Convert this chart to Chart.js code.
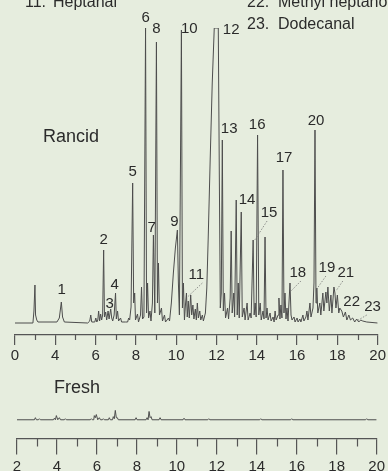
<!DOCTYPE html>
<html>
<head>
<meta charset="utf-8">
<script src="https://cdn.jsdelivr.net/npm/chart.js@4/dist/chart.umd.min.js"></script>
<style>
  html, body { margin: 0; padding: 0; background: #e6edde; overflow: hidden; }
  body { width: 388px; height: 471px; position: relative; }
  canvas { position: absolute; left: 0; }
  #rancidChart { top: 0; }
  #freshChart { top: 374px; }
</style>
</head>
<body>
<canvas id="rancidChart" width="388" height="367"></canvas>
<canvas id="freshChart" width="388" height="103"></canvas>
<script>
// Rancid trace (retention time in min, detector signal)
const rancidTime = [
  2.00, 2.89, 2.94, 2.99, 3.02, 3.08, 3.14, 4.08, 4.20, 4.30, 4.36, 4.45,
  5.61, 5.71, 5.76, 5.81, 5.96, 6.01, 6.06, 6.11, 6.15, 6.20, 6.25, 6.30, 6.35, 6.40, 6.44, 6.50,
  6.55, 6.62, 6.67, 6.75, 6.80, 6.85, 6.92, 6.99, 7.03, 7.09, 7.14, 7.24, 7.29, 7.49, 7.59, 7.64,
  7.69, 7.76, 7.84, 7.89, 7.94, 7.98, 8.08, 8.13, 8.23, 8.28, 8.33, 8.40, 8.48, 8.53, 8.58, 8.63,
  8.70, 8.75, 8.82, 8.87, 8.94, 9.02, 9.07, 9.12, 9.17, 9.27, 9.32, 9.42, 9.47, 9.62, 9.67, 9.76,
  9.86, 9.96, 10.06, 10.11, 10.16, 10.26, 10.31, 10.36, 10.41, 10.46, 10.51, 10.55, 10.60, 10.65,
  10.72, 10.77, 10.83, 10.88, 10.95, 11.00, 11.05, 11.10, 11.17, 11.22, 11.30, 11.35, 11.45, 11.52,
  11.59, 11.69, 11.79, 11.89, 12.09, 12.14, 12.19, 12.24, 12.29, 12.34, 12.40, 12.45, 12.55, 12.60,
  12.68, 12.73, 12.78, 12.86, 12.90, 12.98, 13.03, 13.08, 13.13, 13.23, 13.28, 13.37, 13.42, 13.52,
  13.57, 13.67, 13.72, 13.82, 13.87, 13.92, 13.97, 14.04, 14.10, 14.17, 14.22, 14.31, 14.36, 14.41,
  14.46, 14.51, 14.56, 14.66, 14.71, 14.81, 14.86, 14.91, 14.96, 15.06, 15.10, 15.15, 15.20, 15.25,
  15.30, 15.35, 15.40, 15.45, 15.50, 15.55, 15.65, 15.70, 15.75, 15.85, 15.90, 16.00, 16.05, 16.14,
  16.19, 16.29, 16.34, 16.44, 16.49, 16.54, 16.64, 16.69, 16.79, 16.84, 16.89, 16.94, 16.98, 17.03,
  17.13, 17.18, 17.28, 17.33, 17.43, 17.48, 17.53, 17.60, 17.68, 17.73, 17.83, 17.88, 17.93, 18.00,
  18.07, 18.12, 18.22, 18.30, 18.40, 18.47, 18.57, 18.65, 18.76, 18.86, 18.96, 19.06, 19.16, 19.26,
  19.46, 20.00
];
const rancidSignal = [
  0, 0, 12, 38, 8, 3, 1, 1, 5, 21, 6, 1,
  0, 2, 8, 1, 1, 5, 1, 3, 12, 2, 9, 3, 8, 73, 6, 11,
  3, 12, 4, 14, 5, 2, 8, 30, 4, 12, 2, 5, 1, 1, 1, 5,
  3, 16, 140, 20, 30, 3, 9, 1, 8, 36, 4, 6, 295, 10, 40, 5,
  12, 2, 20, 88, 10, 281, 20, 60, 8, 15, 2, 8, 1, 5, 2, 20,
  50, 75, 93, 40, 8, 293, 15, 40, 3, 18, 30, 6, 22, 5,
  28, 8, 18, 4, 14, 3, 20, 5, 12, 3, 8, 2, 10, 35,
  85, 165, 240, 295, 295, 150, 15, 30, 183, 12, 30, 5, 15, 4,
  25, 92, 10, 30, 6, 123, 8, 40, 5, 111, 6, 15, 3, 20,
  3, 10, 5, 83, 8, 20, 6, 188, 8, 20, 3, 12, 4, 86,
  5, 15, 3, 10, 2, 6, 1, 12, 3, 8, 25, 4, 18, 5,
  153, 10, 30, 4, 15, 2, 40, 8, 3, 6, 1, 5, 1, 4,
  1, 8, 2, 6, 12, 3, 20, 6, 15, 40, 193, 20, 35, 10,
  20, 8, 30, 12, 31, 20, 36, 12, 28, 10, 36, 30, 15, 28,
  10, 15, 12, 6, 11, 3, 8, 3, 5, 1, 4, 1, 3, 2,
  1, 0
];

// Fresh trace
const freshTime = [
  2.00, 2.87, 2.92, 2.97, 3.07, 3.12, 3.17, 3.82, 3.87, 3.92, 3.97, 4.04, 4.12, 4.18, 4.37, 4.42,
  4.47, 5.67, 5.72, 5.77, 5.84, 5.87, 5.92, 5.97, 6.04, 6.12, 6.18, 6.27, 6.32, 6.37, 6.57, 6.62,
  6.67, 6.78, 6.82, 6.87, 6.92, 6.97, 7.02, 7.07, 7.91, 7.96, 8.01, 8.46, 8.51, 8.56, 8.61, 8.66,
  8.71, 8.76, 9.11, 9.16, 9.21, 10.31, 10.36, 10.41, 11.55, 11.60, 11.65, 14.15, 14.20, 14.25,
  15.70, 15.75, 15.80, 19.45, 19.50, 19.55, 20.00
];
const freshSignal = [
  0, 0, 2, 0, 0, 1, 0, 0, 1.5, 0, 4, 0, 2, 0, 0, 1,
  0, 0, 1, 0, 0, 4, 2, 5, 0, 2, 0, 0, 1, 0, 0, 2,
  0, 0, 3, 1, 9, 2, 2, 0, 0, 2, 0, 0, 2, 0, 8, 2,
  3, 0, 0, 2, 0, 0, 1.5, 0, 0, 1, 0, 0, 1, 0,
  0, 1, 0, 0, 1, 0, 0
];

// Axis tick labels (one per minute, 2..20)
const rancidTickLabels = ["0", "", "4", "", "6", "", "8", "", "10", "", "12", "", "14", "", "16", "", "18", "", "20"];
const freshTickLabels = ["2", "", "4", "", "6", "", "8", "", "10", "", "12", "", "14", "", "16", "", "18", "", "20"];

// Peak numbers and where their labels sit (time, signal level)
const peakNumbers = ["1", "2", "3", "4", "5", "6", "7", "8", "9", "10", "11", "12", "13", "14", "15", "16", "17", "18", "19", "20", "21", "22", "23"];
const peakLabelTime = [4.32, 6.40, 6.70, 6.95, 7.84, 8.48, 8.78, 9.02, 9.91, 10.65, 11.00, 12.73, 12.63, 13.52, 14.61, 14.02, 15.35, 16.04, 17.48, 16.94, 18.42, 18.71, 19.75];
const peakLabelLevel = [33, 83, 19, 38, 151, 305, 95, 294, 101, 294, 48, 293, 194, 123, 110, 198, 165, 50, 55, 202, 50, 21, 16];

// Dotted leader lines: [t1, level1, t2, level2]
const leaderLines = [
  [11.30, 40, 10.56, 26],
  [14.51, 102, 13.87, 82],
  [16.19, 42, 15.70, 32],
  [17.43, 47, 16.98, 34],
  [18.27, 42, 17.93, 32],
  [19.46, 8, 18.96, 2]
];

// Compound key (partly cut off at the top)
const keyNumbers = ["11.", "22.", "23."];
const keyNames = ["Heptanal", "Methyl heptanoate", "Dodecanal"];

const fontFamily = "'Liberation Sans', Arial, Helvetica, sans-serif";
const inkColor = "#2b2b2b";
const traceColor = "#4d4d4d";
const axisColor = "#555";

Chart.defaults.font.family = fontFamily;
Chart.defaults.color = inkColor;

// Short ticks at the odd minutes
const minorTicks = {
    id: "minorTicks",
    afterDraw(chart, args, opts) {
        const xs = chart.scales.x;
        const ctx = chart.ctx;
        const y0 = chart.chartArea.bottom;
        ctx.save();
        ctx.strokeStyle = axisColor;
        ctx.lineWidth = 1.2;
        xs.ticks.forEach(t => {
            if (t.value % 2 === 0) return;
            const px = Math.round(xs.getPixelForValue(t.value)) + 0.5;
            ctx.beginPath();
            ctx.moveTo(px, y0);
            ctx.lineTo(px, y0 + opts.length);
            ctx.stroke();
        });
        ctx.restore();
    }
};

const rancidText = {
    id: "rancidText",
    afterDatasetsDraw(chart) {
        const ctx = chart.ctx;
        const xs = chart.scales.x;
        const ys = chart.scales.y;
        ctx.save();
        ctx.fillStyle = inkColor;
        ctx.textAlign = "center";
        ctx.textBaseline = "middle";
        ctx.font = "15px " + fontFamily;
        peakNumbers.forEach((n, i) => {
            ctx.fillText(n, xs.getPixelForValue(peakLabelTime[i]), ys.getPixelForValue(peakLabelLevel[i]));
        });

        // leaders
        ctx.strokeStyle = "#777";
        ctx.lineWidth = 0.8;
        ctx.setLineDash([1.5, 1.5]);
        leaderLines.forEach(l => {
            ctx.beginPath();
            ctx.moveTo(xs.getPixelForValue(l[0]), ys.getPixelForValue(l[1]));
            ctx.lineTo(xs.getPixelForValue(l[2]), ys.getPixelForValue(l[3]));
            ctx.stroke();
        });
        ctx.setLineDash([]);

        ctx.font = "18px " + fontFamily;
        ctx.fillText("Rancid", 71, 137);

        // key
        ctx.textAlign = "left";
        ctx.textBaseline = "alphabetic";
        ctx.font = "16px " + fontFamily;
        ctx.fillText(keyNumbers[0], 25, 7);
        ctx.fillText(keyNames[0], 53, 7);
        ctx.fillText(keyNumbers[1], 247, 7);
        ctx.fillText(keyNames[1], 278, 7);
        ctx.fillText(keyNumbers[2], 247, 29);
        ctx.fillText(keyNames[2], 278, 29);
        ctx.restore();
    }
};

const freshText = {
    id: "freshText",
    afterDatasetsDraw(chart) {
        const ctx = chart.ctx;
        ctx.save();
        ctx.fillStyle = inkColor;
        ctx.textAlign = "center";
        ctx.textBaseline = "middle";
        ctx.font = "18px " + fontFamily;
        ctx.fillText("Fresh", 77, 14);
        ctx.restore();
    }
};

function xAxis(labels, tickLength, padding) {
    return {
        type: "linear",
        min: 2,
        max: 20,
        ticks: {
            stepSize: 1,
            autoSkip: false,
            maxRotation: 0,
            padding: padding,
            font: { size: 15 },
            color: inkColor,
            callback: (value, index) => labels[index]
        },
        grid: {
            display: true,
            drawOnChartArea: false,
            drawTicks: true,
            tickLength: tickLength,
            lineWidth: 1.2,
            color: ctx => (ctx.tick && ctx.tick.value % 2 === 0) ? axisColor : "rgba(0,0,0,0)"
        },
        border: { display: true, color: axisColor, width: 1.2 }
    };
}

function buildChart(canvasId, times, signal, yMin, yMax, padding, labels, tickLength, minorLength, tickPadding, textPlugin) {
    const points = times.map((t, i) => ({ x: t, y: signal[i] }));
    return new Chart(document.getElementById(canvasId), {
        type: "line",
        data: {
            datasets: [{
                data: points,
                borderColor: traceColor,
                borderWidth: 1,
                pointRadius: 0,
                tension: 0,
                fill: false
            }]
        },
        options: {
            responsive: false,
            animation: false,
            devicePixelRatio: 1,
            layout: { padding: padding },
            plugins: {
                legend: { display: false },
                tooltip: { enabled: false },
                minorTicks: { length: minorLength }
            },
            scales: {
                x: xAxis(labels, tickLength, tickPadding),
                y: { display: false, min: yMin, max: yMax }
            }
        },
        plugins: [minorTicks, textPlugin]
    });
}

document.addEventListener("DOMContentLoaded", () => {
    buildChart("rancidChart", rancidTime, rancidSignal, -12, 295,
        { left: 15, right: 9, top: 28, bottom: 0 }, rancidTickLabels, 10, 5, 2, rancidText);
    buildChart("freshChart", freshTime, freshSignal, -18, 19,
        { left: 17, right: 10, top: 26, bottom: 0 }, freshTickLabels, 16, 8, 3, freshText);
});
</script>
</body>
</html>
